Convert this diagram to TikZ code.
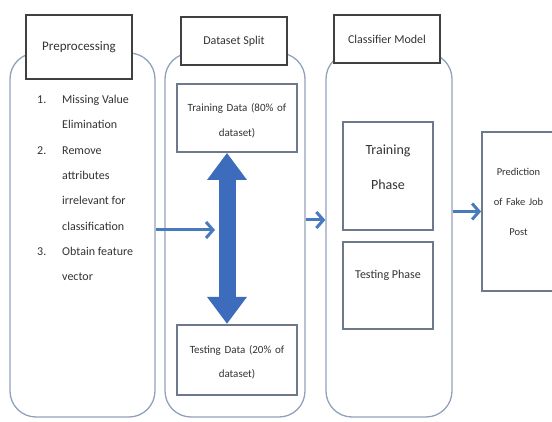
\documentclass[tikz,border=0pt]{standalone}
\usepackage{fontspec}
\setmainfont{Carlito}
\usepackage{xcolor}
\usetikzlibrary{arrows.meta, positioning}
\definecolor{framegray}{RGB}{146,162,186}
\definecolor{titlegray}{RGB}{64,64,64}
\definecolor{boxgray}{RGB}{110,122,140}
\definecolor{flowblue}{RGB}{72,122,190}
\definecolor{splitblue}{RGB}{62,108,188}

\begin{document}
\begin{tikzpicture}[
    x=1pt, y=-1pt,
    stage/.style={rectangle, draw=framegray, line width=1.3pt, rounded corners=26pt, fill=white, minimum height=364pt},
    title/.style={rectangle, draw=titlegray, line width=2.8pt, fill=white, text=black!80, inner sep=0pt, minimum width=106pt},
    inner/.style={rectangle, draw=boxgray, line width=1.8pt, fill=white, text=black!80, align=center, inner sep=0pt},
    line/.style={draw=flowblue, line width=3pt, -{Straight Barb[length=7pt,width=16pt]}},
    bigarrow/.style={draw=splitblue, line width=17pt, {Triangle[length=27pt,width=38pt]}-{Triangle[length=27pt,width=38pt]}}
]
\useasboundingbox (0,0) rectangle (552,422);

% Stage frames
\node [stage, minimum width=145pt] (prep) at (82.5,235) {};
\node [stage, minimum width=140pt] (split) at (235,235) {};
\node [stage, minimum width=126pt] (clf) at (389,235) {};

% Stage titles
\node [title, minimum height=64pt, font=\fontsize{13}{15}\selectfont] (preptitle) at (79,47) {Preprocessing};
\node [title, minimum height=48pt, font=\fontsize{12}{14}\selectfont] (splittitle) at (234,41) {Dataset Split};
\node [title, minimum height=48pt, font=\fontsize{12}{14}\selectfont] (clftitle) at (387,39) {Classifier Model};

% Preprocessing steps
\node [anchor=north west, align=left, inner sep=0pt, text=black!80, font=\fontsize{12}{25.3}\selectfont] (steps) at (37,95)
    {\makebox[25pt][l]{1.}Missing Value\\ \hspace*{25pt}Elimination\\
     \makebox[25pt][l]{2.}Remove\\ \hspace*{25pt}attributes\\ \hspace*{25pt}irrelevant for\\ \hspace*{25pt}classification\\
     \makebox[25pt][l]{3.}Obtain feature\\ \hspace*{25pt}vector};

% Dataset split
\node [inner, minimum width=120pt, minimum height=68pt, text width=112pt, text height=9pt, text depth=22pt, font=\fontsize{11}{25}\selectfont] (train) at (237,118) {Training Data (80\% of\\dataset)};
\node [inner, minimum width=120pt, minimum height=70pt, text width=112pt, text height=9pt, text depth=22pt, font=\fontsize{11}{24}\selectfont, below=171pt of train] (test) {Testing Data (20\% of\\dataset)};

% Classifier model
\node [inner, minimum width=90pt, minimum height=108pt, text width=86pt, text height=11pt, text depth=54pt, font=\fontsize{14}{35}\selectfont] (trainph) at (388,176) {Training\\Phase};
\node [inner, minimum width=90pt, minimum height=87pt, text height=9pt, text depth=22pt, font=\fontsize{12}{14}\selectfont, below=10pt of trainph] (testph) {Testing Phase};

% Output
\node [inner, minimum width=73pt, minimum height=159pt, text width=68pt, text height=9pt, text depth=81pt, font=\fontsize{10.5}{30}\selectfont] (pred) at (518.5,211.5) {Prediction\\of Fake Job\\Post};

% Connections
\coordinate (splitin) at (215,230);
\path [line] (prep.east |- splitin) -- (splitin);
\path [bigarrow] ([xshift=-10pt]train.south) -- ([xshift=-10pt]test.north);
\path [line] ([yshift=15pt]split.east) -- ([yshift=15pt]clf.west);
\path [line] (clf.east |- pred.west) -- (pred.west);

\end{tikzpicture}
\end{document}
